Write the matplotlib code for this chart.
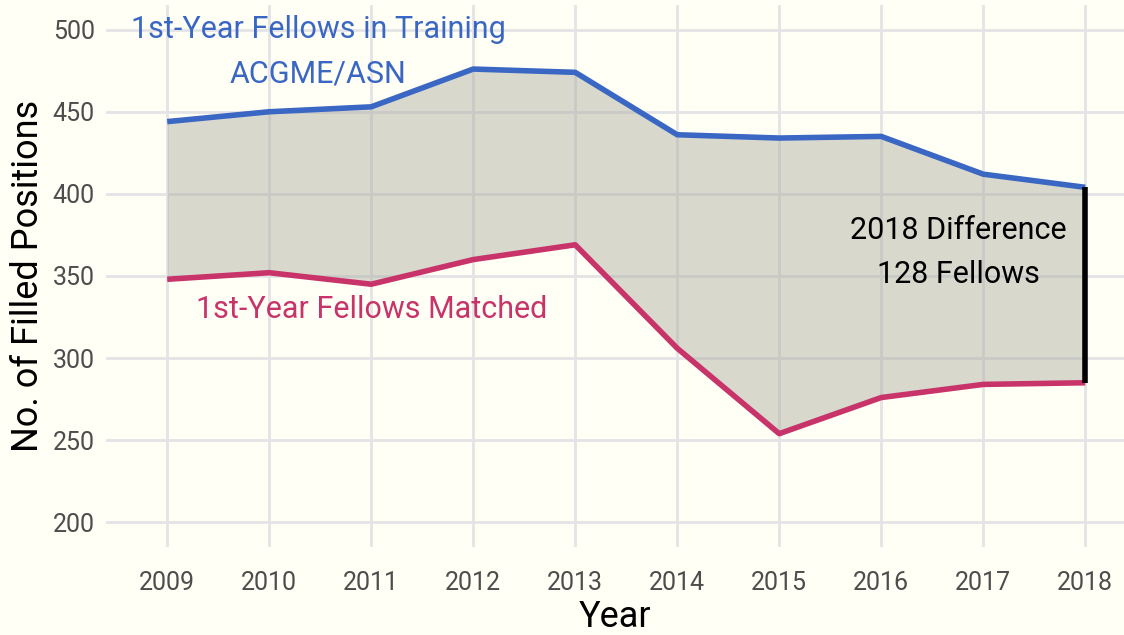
import matplotlib.pyplot as plt

years = [2009, 2010, 2011, 2012, 2013, 2014, 2015, 2016, 2017, 2018]
in_training = [444, 450, 453, 476, 474, 436, 434, 435, 412, 404]
matched = [348, 352, 345, 360, 369, 306, 254, 276, 284, 285]

bg = '#fffff5'
blue = '#3a66c4'
pink = '#c8336a'

plt.rcParams['font.family'] = ['Roboto', 'DejaVu Sans']

fig = plt.figure(figsize=(11.24, 6.35), dpi=100, facecolor=bg)
ax = fig.add_axes([106 / 1124, 88 / 635, 1018 / 1124, 542 / 635])
ax.set_facecolor(bg)

ax.fill_between(years, matched, in_training, color='#a9a99e', alpha=0.45, lw=0, zorder=2)
ax.plot(years, in_training, color=blue, lw=4, zorder=3, solid_capstyle='butt')
ax.plot(years, matched, color=pink, lw=4, zorder=3, solid_capstyle='butt')
ax.vlines(years[-1], matched[-1], in_training[-1], color='black', lw=4, zorder=4)

ax.text(2010.48, 486.5, '1st-Year Fellows in Training\nACGME/ASN', color=blue,
        fontsize=22, ha='center', va='center', linespacing=1.65, zorder=5)
ax.text(2011.0, 329.3, '1st-Year Fellows Matched', color=pink,
        fontsize=22, ha='center', va='center', zorder=5)
ax.text(2016.76, 364.3, '2018 Difference\n128 Fellows', color='black',
        fontsize=22, ha='center', va='center', linespacing=1.65, zorder=5)

ax.set_xlim(2008.4, 2018.38)
ax.set_ylim(185, 515)
ax.set_xticks(years)
ax.set_yticks([200, 250, 300, 350, 400, 450, 500])
ax.grid(True, color='#e4e4e6', lw=2, zorder=1)
ax.set_axisbelow(True)
for s in ax.spines.values():
    s.set_visible(False)
ax.tick_params(axis='x', length=0, labelsize=18, labelcolor='#4d4d4d', pad=17)
ax.tick_params(axis='y', length=0, labelsize=18, labelcolor='#4d4d4d', pad=8)
ax.set_xlabel('Year', fontsize=26, color='black', labelpad=3)
ax.set_ylabel('No. of Filled Positions', fontsize=26, color='black', labelpad=5)

fig.savefig('out.png', dpi=100, facecolor=bg)
